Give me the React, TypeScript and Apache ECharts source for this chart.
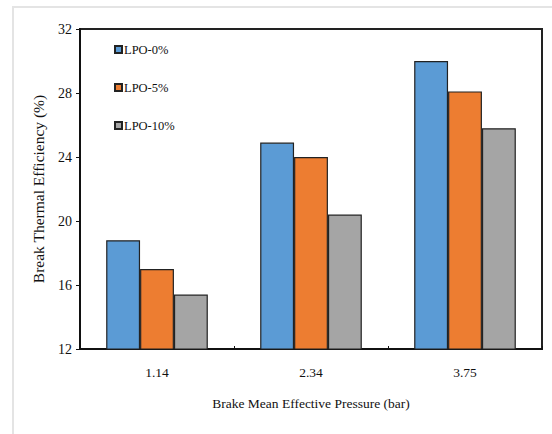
import React, { useEffect, useRef } from "react";
import * as echarts from "echarts";

const categories = ["1.14", "2.34", "3.75"];
const lpo0 = [18.8, 24.9, 30.0];
const lpo5 = [17.0, 24.0, 28.1];
const lpo10 = [15.4, 20.4, 25.8];
const seriesNames = ["LPO-0%", "LPO-5%", "LPO-10%"];
const colors = ["#5B9BD5", "#ED7D31", "#A5A5A5"];

const FONT = "Liberation Serif";

export default function App() {
  const ref = useRef<HTMLDivElement>(null);
  useEffect(() => {
    document.body.style.margin = "0";
    const chart = echarts.init(ref.current!, null, { renderer: "svg" });
    const data = [lpo0, lpo5, lpo10];
    chart.setOption({
      animation: false,
      backgroundColor: "#ffffff",
      graphic: [
        {
          type: "rect",
          shape: { x: 13, y: 7, width: 600, height: 500 },
          style: { fill: "none", stroke: "#e4e4e4", lineWidth: 2 },
          z: -1,
        },
      ],
      grid: {
        left: 80,
        right: 10,
        top: 29,
        bottom: 85,
        show: true,
        borderColor: "#222",
        borderWidth: 2,
        backgroundColor: "transparent",
      },
      legend: {
        orient: "vertical",
        left: 109,
        top: 38,
        itemWidth: 7,
        itemHeight: 7,
        itemGap: 25,
        icon: "rect",
        textStyle: { fontFamily: FONT, fontSize: 12.5, color: "#111", padding: [0, 0, 0, -3] },
        data: seriesNames,
      },
      xAxis: {
        type: "category",
        data: categories,
        axisLine: { lineStyle: { color: "#111", width: 2 } },
        axisTick: { show: true, inside: true, length: 3, lineStyle: { color: "#111" } },
        axisLabel: { fontFamily: FONT, fontSize: 13.5, color: "#111", margin: 16 },
        name: "Brake Mean Effective Pressure (bar)",
        nameLocation: "middle",
        nameGap: 47,
        nameMoveOverlap: false,
        nameTextStyle: { fontFamily: FONT, fontSize: 13.5, color: "#111" },
      },
      yAxis: {
        type: "value",
        min: 12,
        max: 32,
        interval: 4,
        splitLine: { show: false },
        axisLine: { show: true, lineStyle: { color: "#111", width: 2 } },
        axisTick: { show: true, length: 4, lineStyle: { color: "#111" } },
        axisLabel: { fontFamily: FONT, fontSize: 14, color: "#111", margin: 8 },
        name: "Break Thermal Efficiency (%)",
        nameLocation: "middle",
        nameGap: 34,
        nameMoveOverlap: false,
        nameTextStyle: { fontFamily: FONT, fontSize: 15.5, color: "#111" },
      },
      series: data.map((d, i) => ({
        name: seriesNames[i],
        type: "bar",
        data: d,
        barWidth: "22%",
        barGap: "0%",
        itemStyle: { color: colors[i], borderColor: "#222", borderWidth: 1.2 },
      })),
    });
    return () => chart.dispose();
  }, []);
  return <div ref={ref} style={{ width: 552, height: 434 }} />;
}
